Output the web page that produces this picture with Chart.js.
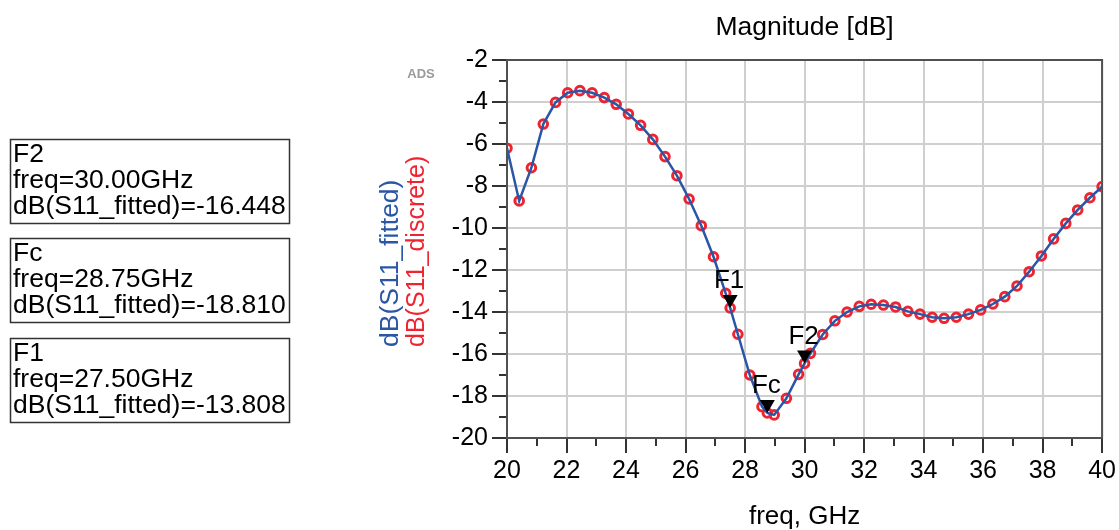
<!DOCTYPE html>
<html>
<head>
<meta charset="utf-8">
<script src="https://cdn.jsdelivr.net/npm/chart.js@4.4.1/dist/chart.umd.min.js"></script>
<style>
  html, body { margin: 0; padding: 0; background: #fff; }
  #wrap { width: 1119px; height: 530px; }
</style>
</head>
<body>
<div id="wrap"><canvas id="s11" width="1119" height="530"></canvas></div>
<script>
// frequency sweep (GHz) and S11 magnitude (dB)
const freqGHz = [
  20.00, 20.41, 20.82, 21.22, 21.63, 22.04, 22.45, 22.86, 23.27, 23.67,
  24.08, 24.49, 24.90, 25.31, 25.71, 26.12, 26.53, 26.94, 27.35, 27.50,
  27.76, 28.16, 28.57, 28.75, 28.98, 29.39, 29.80, 30.00, 30.20, 30.61,
  31.02, 31.43, 31.84, 32.24, 32.65, 33.06, 33.47, 33.88, 34.29, 34.69,
  35.10, 35.51, 35.92, 36.33, 36.73, 37.14, 37.55, 37.96, 38.37, 38.78,
  39.18, 39.59, 40.00
];
const s11Discrete = [
  -6.20, -8.71, -7.13, -5.05, -4.02, -3.56, -3.46, -3.56, -3.79, -4.11,
  -4.57, -5.11, -5.78, -6.60, -7.51, -8.62, -9.89, -11.37, -13.11, -13.81,
  -15.06, -17.00, -18.51, -18.81, -18.90, -18.11, -16.97, -16.45, -15.97, -15.07,
  -14.42, -14.00, -13.73, -13.63, -13.67, -13.76, -13.97, -14.10, -14.25, -14.30,
  -14.25, -14.10, -13.90, -13.62, -13.27, -12.76, -12.08, -11.33, -10.52, -9.78,
  -9.14, -8.56, -8.03
];
const s11Fitted = [
  -6.20, -8.71, -7.13, -5.05, -4.02, -3.56, -3.46, -3.56, -3.79, -4.11,
  -4.57, -5.11, -5.78, -6.60, -7.51, -8.62, -9.89, -11.37, -13.11, -13.808,
  -15.06, -17.00, -18.51, -18.810, -18.90, -18.11, -16.97, -16.448, -15.97, -15.07,
  -14.42, -14.00, -13.73, -13.63, -13.67, -13.76, -13.97, -14.10, -14.25, -14.30,
  -14.25, -14.10, -13.90, -13.62, -13.27, -12.76, -12.08, -11.33, -10.52, -9.78,
  -9.14, -8.56, -8.03
];

// markers on the fitted trace (readout boxes listed top to bottom)
const markerNames = ['F2', 'Fc', 'F1'];
const markerFreq  = [30.00, 28.75, 27.50];
const markerDb    = [-16.448, -18.810, -13.808];

const xTicks = [20, 22, 24, 26, 28, 30, 32, 34, 36, 38, 40];
const yTicks = [-2, -4, -6, -8, -10, -12, -14, -16, -18, -20];

const FONT = '"Liberation Sans", Arial, sans-serif';
const BLUE = '#2a56a6';
const RED  = '#ee2430';

const adsDecor = {
  id: 'adsDecor',
  beforeDatasetsDraw(chart) {
    const { ctx, chartArea: a, scales: { x, y } } = chart;
    ctx.save();
    // minor ticks on odd values
    ctx.strokeStyle = '#333';
    ctx.lineWidth = 2;
    ctx.beginPath();
    for (let f = 21; f < 40; f += 2) {
      const px = Math.round(x.getPixelForValue(f));
      ctx.moveTo(px, a.bottom); ctx.lineTo(px, a.bottom + 8);
    }
    for (let v = -3; v > -20; v -= 2) {
      const py = Math.round(y.getPixelForValue(v));
      ctx.moveTo(a.left, py); ctx.lineTo(a.left - 8, py);
    }
    ctx.stroke();
    // plot frame
    ctx.strokeStyle = '#505050';
    ctx.strokeRect(a.left, a.top, a.right - a.left, a.bottom - a.top);
    ctx.restore();
  },
  afterDraw(chart) {
    const { ctx, chartArea: a, scales: { x, y } } = chart;
    ctx.save();

    // plot title
    ctx.fillStyle = '#000';
    ctx.font = '26.5px ' + FONT;
    ctx.textAlign = 'center';
    ctx.textBaseline = 'middle';
    ctx.fillText('Magnitude [dB]', (a.left + a.right) / 2, 28);

    // "ADS" stamp
    ctx.fillStyle = '#9a9a9a';
    ctx.font = 'bold 13px ' + FONT;
    ctx.fillText('ADS', 421, 74);

    // two-colour y axis label
    ctx.textAlign = 'left';
    ctx.save();
    ctx.translate(391, 347);
    ctx.rotate(-Math.PI / 2);
    ctx.fillStyle = BLUE;
    ctx.font = '26.5px ' + FONT;
    ctx.fillText('dB(S11_fitted)', 0, 0);
    ctx.restore();
    ctx.save();
    ctx.translate(417, 347);
    ctx.rotate(-Math.PI / 2);
    ctx.fillStyle = RED;
    ctx.font = '25px ' + FONT;
    ctx.fillText('dB(S11_discrete)', 0, 0);
    ctx.restore();

    // marker readout boxes
    const boxTop = [139.5, 238.5, 338.5];
    markerNames.forEach((name, i) => {
      const t = boxTop[i];
      ctx.strokeStyle = '#333';
      ctx.lineWidth = 1.5;
      ctx.strokeRect(10.5, t, 279, 84);
      ctx.fillStyle = '#000';
      ctx.font = '26.5px ' + FONT;
      ctx.textAlign = 'left';
      ctx.textBaseline = 'middle';
      ctx.fillText(name, 13, t + 15);
      ctx.fillText('freq=' + markerFreq[i].toFixed(2) + 'GHz', 13, t + 41);
      ctx.fillText('dB(S11_fitted)=' + markerDb[i].toFixed(3), 13, t + 67);
    });

    // marker triangles on the trace
    markerNames.forEach((name, i) => {
      const px = x.getPixelForValue(markerFreq[i]);
      const py = y.getPixelForValue(markerDb[i]);
      ctx.fillStyle = '#000';
      ctx.beginPath();
      ctx.moveTo(px, py);
      ctx.lineTo(px - 7.5, py - 13);
      ctx.lineTo(px + 7.5, py - 13);
      ctx.closePath();
      ctx.fill();
      ctx.font = '26px ' + FONT;
      ctx.textAlign = 'center';
      ctx.textBaseline = 'middle';
      ctx.fillText(name, px - 1, py - 27);
    });

    ctx.restore();
  }
};

new Chart(document.getElementById('s11'), {
  type: 'scatter',
  data: {
    datasets: [
      {
        label: 'dB(S11_fitted)',
        data: freqGHz.map((f, i) => ({ x: f, y: s11Fitted[i] })),
        showLine: true,
        borderColor: BLUE,
        borderWidth: 2.5,
        pointRadius: 0,
        tension: 0,
        order: 0,
      },
      {
        label: 'dB(S11_discrete)',
        data: freqGHz.map((f, i) => ({ x: f, y: s11Discrete[i] })),
        showLine: false,
        pointStyle: 'circle',
        pointRadius: 4.3,
        pointBorderWidth: 3,
        pointBorderColor: RED,
        pointBackgroundColor: 'rgba(0,0,0,0)',
        order: 1,
      },
    ]
  },
  options: {
    responsive: false,
    animation: false,
    devicePixelRatio: 1,
    layout: { padding: { left: 0, top: 60, right: 16, bottom: 0 } },
    plugins: {
      legend: { display: false },
      tooltip: { enabled: false },
    },
    scales: {
      x: {
        type: 'linear',
        min: 20, max: 40,
        afterBuildTicks(scale) { scale.ticks = xTicks.map(v => ({ value: v })); },
        ticks: { color: '#000', font: { family: FONT, size: 25 }, padding: 3, maxRotation: 0, autoSkip: false },
        grid: { color: '#cfcfcf', lineWidth: 2, tickLength: 15, tickColor: '#333', tickWidth: 2 },
        border: { display: false },
        title: { display: true, text: 'freq, GHz', color: '#000', font: { family: FONT, size: 26, lineHeight: 1 }, padding: 0 },
        afterFit(scale) { scale.height = 92; },
      },
      y: {
        type: 'linear',
        min: -20, max: -2,
        afterBuildTicks(scale) { scale.ticks = yTicks.map(v => ({ value: v })); },
        ticks: { color: '#000', font: { family: FONT, size: 25 }, padding: 4 },
        grid: { color: '#cfcfcf', lineWidth: 2, tickLength: 15, tickColor: '#333', tickWidth: 2 },
        border: { display: false },
        afterFit(scale) { scale.width = 507; },
      },
    },
  },
  plugins: [adsDecor],
});
</script>
</body>
</html>
